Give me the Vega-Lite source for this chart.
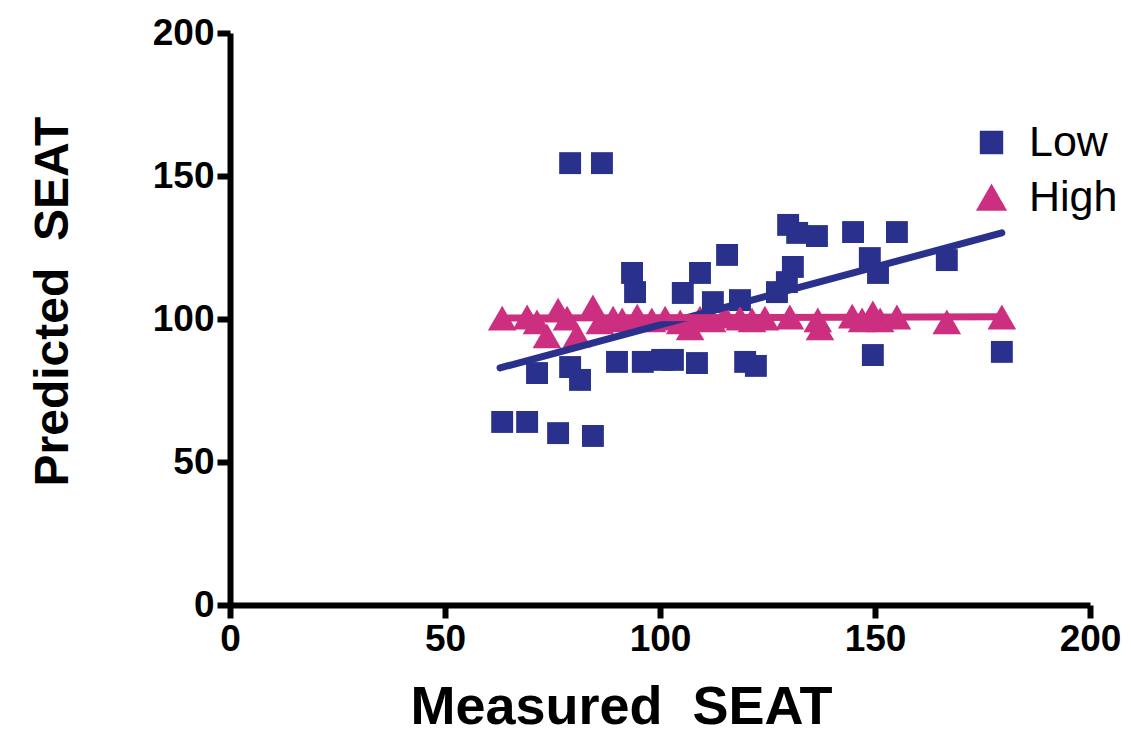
{
  "$schema": "https://vega.github.io/schema/vega-lite/v6.json",
  "width": 860,
  "height": 572,
  "autosize": {"type": "none"},
  "padding": {"left": 230, "top": 33, "right": 41, "bottom": 140},
  "background": "white",
  "config": {
    "view": {"stroke": null},
    "font": "Liberation Sans",
    "axis": {
      "grid": false,
      "domainColor": "black",
      "domainWidth": 6,
      "tickColor": "black",
      "tickWidth": 6,
      "tickSize": 13,
      "labelColor": "black",
      "labelFont": "Liberation Sans",
      "labelFontSize": 37,
      "labelFontWeight": "bold",
      "labelPadding": 3,
      "titleColor": "black",
      "titleFont": "Liberation Sans",
      "titleFontWeight": "bold"
    }
  },
  "datasets": {
    "points": [
      {"series": "Low", "measured": 63.3, "predicted": 64.0},
      {"series": "Low", "measured": 69.1, "predicted": 64.0},
      {"series": "Low", "measured": 76.3, "predicted": 60.1},
      {"series": "Low", "measured": 84.4, "predicted": 59.1},
      {"series": "Low", "measured": 71.4, "predicted": 81.1},
      {"series": "Low", "measured": 79.1, "predicted": 83.2},
      {"series": "Low", "measured": 81.4, "predicted": 78.7},
      {"series": "Low", "measured": 90.0, "predicted": 85.0},
      {"series": "Low", "measured": 96.0, "predicted": 85.0},
      {"series": "Low", "measured": 100.5, "predicted": 85.7},
      {"series": "Low", "measured": 103.0, "predicted": 85.7},
      {"series": "Low", "measured": 108.6, "predicted": 84.6},
      {"series": "Low", "measured": 119.8, "predicted": 85.0},
      {"series": "Low", "measured": 122.3, "predicted": 83.6},
      {"series": "Low", "measured": 79.1, "predicted": 154.5},
      {"series": "Low", "measured": 86.5, "predicted": 154.5},
      {"series": "Low", "measured": 93.5, "predicted": 116.1},
      {"series": "Low", "measured": 94.2, "predicted": 109.4},
      {"series": "Low", "measured": 105.3, "predicted": 109.1},
      {"series": "Low", "measured": 109.3, "predicted": 116.1},
      {"series": "Low", "measured": 112.3, "predicted": 105.9},
      {"series": "Low", "measured": 115.6, "predicted": 122.4},
      {"series": "Low", "measured": 118.6, "predicted": 106.6},
      {"series": "Low", "measured": 127.2, "predicted": 109.4},
      {"series": "Low", "measured": 129.8, "predicted": 132.9},
      {"series": "Low", "measured": 131.9, "predicted": 130.1},
      {"series": "Low", "measured": 136.5, "predicted": 129.0},
      {"series": "Low", "measured": 130.9, "predicted": 118.2},
      {"series": "Low", "measured": 129.5, "predicted": 112.9},
      {"series": "Low", "measured": 144.9, "predicted": 130.4},
      {"series": "Low", "measured": 148.8, "predicted": 121.3},
      {"series": "Low", "measured": 150.7, "predicted": 116.1},
      {"series": "Low", "measured": 155.1, "predicted": 130.4},
      {"series": "Low", "measured": 166.7, "predicted": 120.6},
      {"series": "Low", "measured": 149.5, "predicted": 87.4},
      {"series": "Low", "measured": 179.5, "predicted": 88.5},
      {"series": "High", "measured": 63.3, "predicted": 100.3},
      {"series": "High", "measured": 69.1, "predicted": 100.7},
      {"series": "High", "measured": 71.4, "predicted": 99.0},
      {"series": "High", "measured": 73.7, "predicted": 94.1},
      {"series": "High", "measured": 76.3, "predicted": 103.1},
      {"series": "High", "measured": 78.4, "predicted": 100.3},
      {"series": "High", "measured": 80.7, "predicted": 94.4},
      {"series": "High", "measured": 84.4, "predicted": 104.2},
      {"series": "High", "measured": 86.0, "predicted": 99.0},
      {"series": "High", "measured": 89.1, "predicted": 100.3},
      {"series": "High", "measured": 91.2, "predicted": 99.7},
      {"series": "High", "measured": 94.7, "predicted": 101.0},
      {"series": "High", "measured": 98.1, "predicted": 99.7},
      {"series": "High", "measured": 101.2, "predicted": 100.3},
      {"series": "High", "measured": 104.7, "predicted": 99.0},
      {"series": "High", "measured": 107.0, "predicted": 96.9},
      {"series": "High", "measured": 109.3, "predicted": 100.3},
      {"series": "High", "measured": 112.1, "predicted": 99.7},
      {"series": "High", "measured": 115.1, "predicted": 101.0},
      {"series": "High", "measured": 118.6, "predicted": 100.3},
      {"series": "High", "measured": 121.4, "predicted": 99.7},
      {"series": "High", "measured": 124.4, "predicted": 100.3},
      {"series": "High", "measured": 130.2, "predicted": 100.7},
      {"series": "High", "measured": 136.7, "predicted": 99.7},
      {"series": "High", "measured": 137.2, "predicted": 96.9},
      {"series": "High", "measured": 144.7, "predicted": 101.0},
      {"series": "High", "measured": 147.0, "predicted": 99.7},
      {"series": "High", "measured": 149.5, "predicted": 102.1},
      {"series": "High", "measured": 151.2, "predicted": 99.7},
      {"series": "High", "measured": 155.1, "predicted": 100.7},
      {"series": "High", "measured": 166.7, "predicted": 99.0},
      {"series": "High", "measured": 179.5, "predicted": 100.7}
    ],
    "fits": [
      {"series": "Low", "measured": 62.8, "predicted": 82.9},
      {"series": "Low", "measured": 179.5, "predicted": 130.1},
      {"series": "High", "measured": 62.8, "predicted": 100.3},
      {"series": "High", "measured": 179.5, "predicted": 100.8}
    ]
  },
  "encoding": {
    "x": {
      "field": "measured",
      "type": "quantitative",
      "scale": {"domain": [0, 200], "nice": false, "zero": false},
      "axis": {
        "values": [0, 50, 100, 150, 200],
        "title": "Measured\u00a0 SEAT",
        "titleFontSize": 54,
        "titlePadding": 23,
        "titleX": 391,
        "labelFlush": false
      }
    },
    "y": {
      "field": "predicted",
      "type": "quantitative",
      "scale": {"domain": [0, 200], "nice": false, "zero": false},
      "axis": {
        "values": [0, 50, 100, 150, 200],
        "title": "Predicted\u00a0 SEAT",
        "titleFontSize": 48,
        "titlePadding": 75,
        "titleY": 268,
        "labelFlush": false
      }
    }
  },
  "layer": [
    {
      "data": {"name": "points"},
      "mark": {"type": "point", "filled": true, "opacity": 1},
      "encoding": {
        "color": {
          "field": "series",
          "type": "nominal",
          "scale": {"domain": ["Low", "High"], "range": ["#29318c", "#cc2f80"]},
          "legend": {
            "title": null,
            "orient": "none",
            "legendX": 740,
            "legendY": 88,
            "labelFontSize": 43,
            "labelFont": "Liberation Sans",
            "labelColor": "black",
            "symbolSize": 330,
            "symbolOpacity": 1,
            "rowPadding": 11,
            "labelOffset": 16
          }
        },
        "shape": {
          "field": "series",
          "type": "nominal",
          "scale": {"domain": ["Low", "High"], "range": ["square", "triangle-up"]}
        },
        "size": {
          "field": "series",
          "type": "nominal",
          "scale": {"domain": ["Low", "High"], "range": [480, 820]},
          "legend": null
        }
      }
    },
    {
      "data": {"name": "fits"},
      "mark": {"type": "line", "strokeWidth": 7, "strokeCap": "round"},
      "encoding": {
        "detail": {"field": "series", "type": "nominal"},
        "color": {"field": "series", "type": "nominal"}
      }
    }
  ]
}
